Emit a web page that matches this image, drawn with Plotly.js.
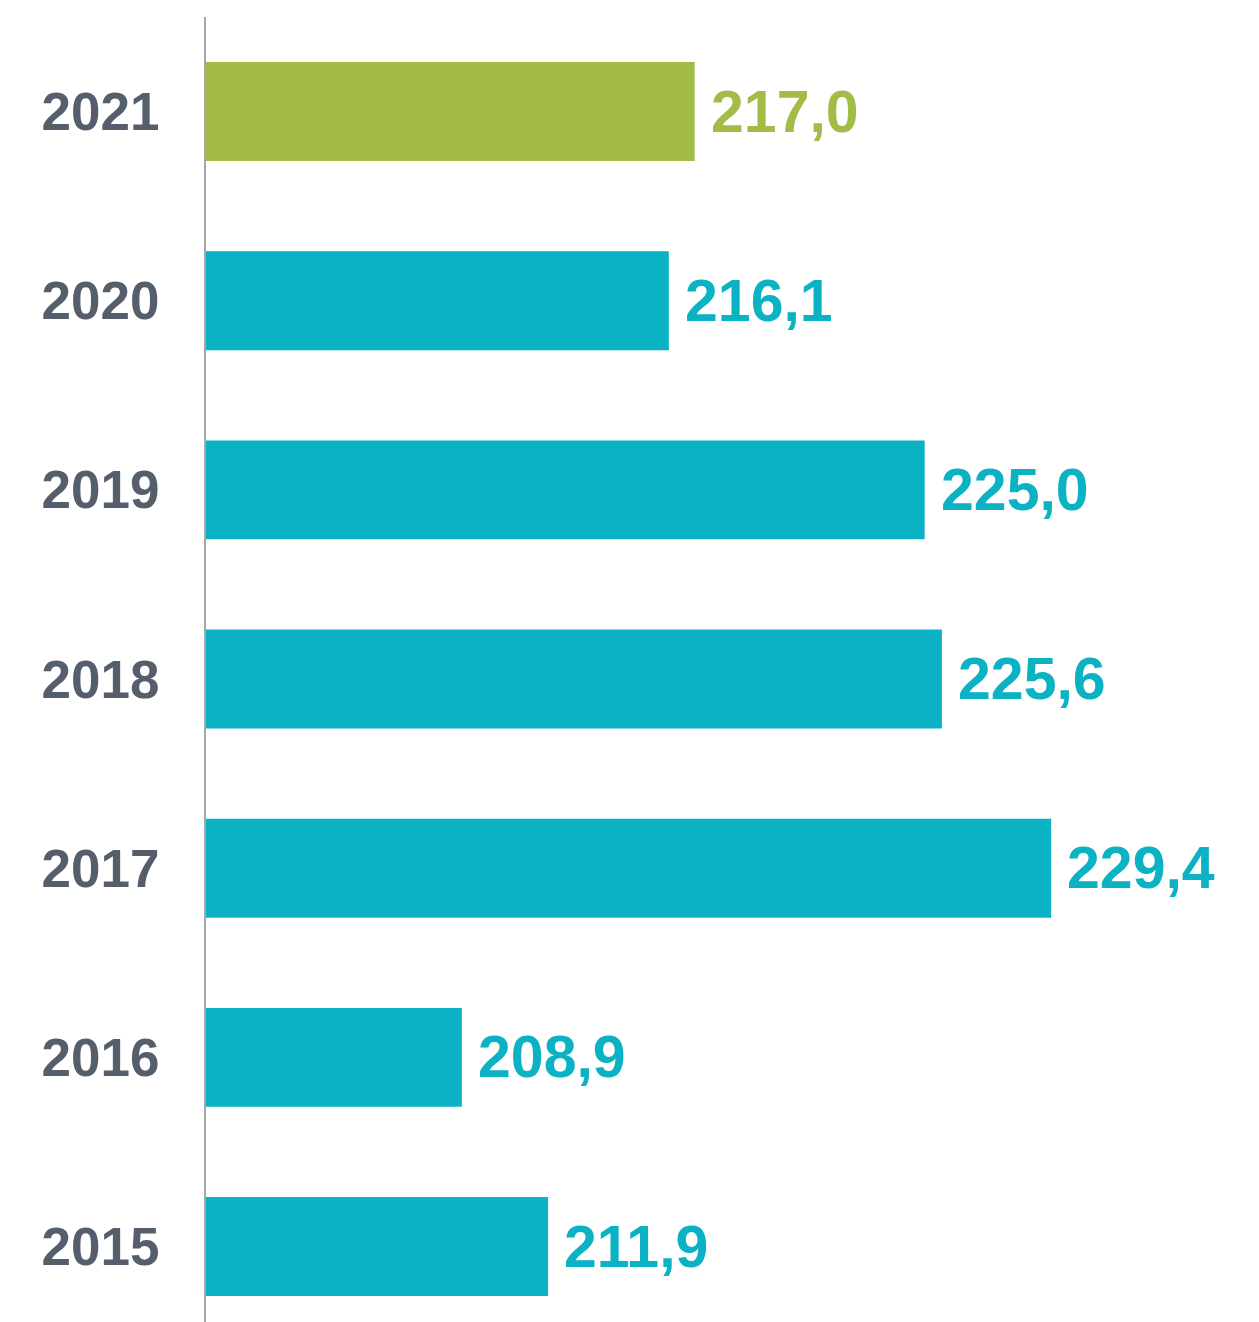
<!DOCTYPE html>
<html>
<head>
<meta charset="utf-8">
<script src="https://cdn.plot.ly/plotly-3.0.1.min.js"></script>
<style>html,body{margin:0;padding:0;background:#fff;}#chart{width:1259px;height:1322px;}</style>
</head>
<body>
<div id="chart"></div>
<script>
const years = ['2015','2016','2017','2018','2019','2020','2021'];
const values = [211.9, 208.9, 229.4, 225.6, 225.0, 216.1, 217.0];
const labels = ['211,9','208,9','229,4','225,6','225,0','216,1','217,0'];
const barColors = ['#0AB2C4','#0AB2C4','#0AB2C4','#0AB2C4','#0AB2C4','#0AB2C4','#A3BC48'];

const trace = {
  type: 'bar',
  orientation: 'h',
  y: years,
  x: values,
  base: 0,
  marker: {color: barColors, line: {width: 0}},
  hoverinfo: 'none'
};

// category axis: annotation y given as category index
const annotations = years.map((yr, i) => ({
  x: values[i], y: i, xref: 'x', yref: 'y',
  text: labels[i], showarrow: false,
  xanchor: 'left', yanchor: 'middle', xshift: 14, yshift: 0,
  font: {family: 'Liberation Sans, Arial, sans-serif', size: 59, color: barColors[i], weight: 'bold'}
}));

const layout = {
  width: 1259, height: 1322,
  margin: {l: 206, r: 0, t: 17, b: 0, pad: 0},
  paper_bgcolor: '#fff', plot_bgcolor: '#fff',
  showlegend: false,
  bargap: 0.477,
  xaxis: {range: [200, 236.63], showgrid: false, zeroline: false, showticklabels: false, showline: false, ticks: ''},
  yaxis: {type: 'category', range: [-0.399, 6.5], showgrid: false, zeroline: false,
    showline: true, linecolor: '#A6A6A6', linewidth: 2, ticks: '', ticklabelstandoff: 34,
    tickfont: {family: 'Liberation Sans, Arial, sans-serif', size: 53, color: '#555F6B', weight: 'bold'}},
  annotations: annotations
};

Plotly.newPlot('chart', [trace], layout, {displayModeBar: false, staticPlot: true});
</script>
</body>
</html>
